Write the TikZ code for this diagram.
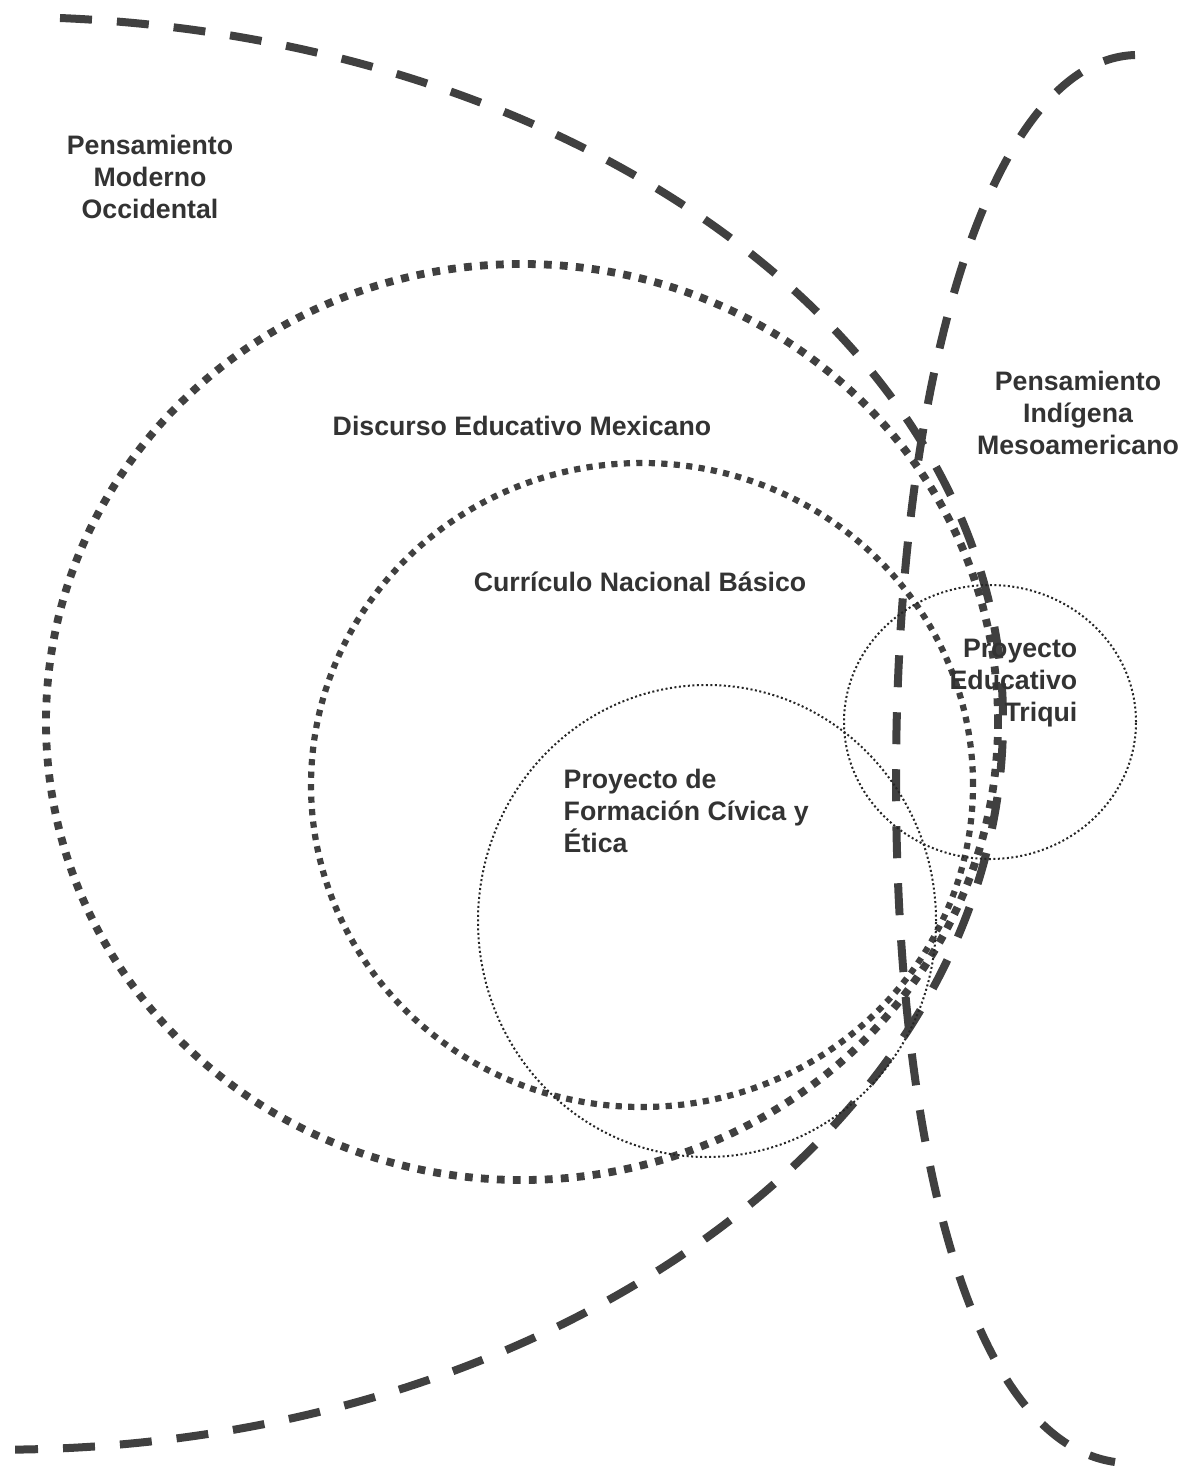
\documentclass[tikz,border=0pt]{standalone}
\usepackage{fontspec}
\setmainfont{Liberation Sans}
\begin{document}
\begin{tikzpicture}[
    linea/.style={black!75, line width=0.08cm, dash pattern=on 0.32cm off 0.25cm},
    puntos/.style={black!75, line width=0.078cm, dash pattern=on 0.078cm off 0.082cm},
    puntitos/.style={black!75, line width=0.062cm, dash pattern=on 0.062cm off 0.063cm},
    fino/.style={black!85, line width=0.02cm, dash pattern=on 0.02cm off 0.025cm},
    etiqueta/.style={text=black!80, font=\fontsize{7.6}{9}\selectfont\bfseries, inner sep=0pt}
]
    % Marco de la figura
    \useasboundingbox (0,0) rectangle (11.85,-14.69);

    % Pensamiento moderno occidental (linea discontinua izquierda)
    \draw[linea] (0.60,-0.18) arc[start angle=86.57, end angle=0, x radius=10.03cm, y radius=7.03cm]
        arc[start angle=0, end angle=-89.14, x radius=10.03cm, y radius=7.30cm];

    % Pensamiento indigena mesoamericano (linea discontinua derecha)
    \draw[linea] (11.35,-0.55) .. controls (9.90,-0.60) and (8.96,-3.80) .. (8.96,-7.80)
        .. controls (8.96,-11.30) and (9.65,-14.40) .. (11.15,-14.62);

    % Discurso educativo y curriculo
    \draw[puntos] (5.22,-7.22) ellipse [x radius=4.76cm, y radius=4.58cm];
    \draw[puntitos] (6.42,-7.85) ellipse [x radius=3.31cm, y radius=3.22cm];

    % Proyectos
    \draw[fino] (7.07,-9.21) ellipse [x radius=2.29cm, y radius=2.36cm];
    \draw[fino] (9.90,-7.22) ellipse [x radius=1.46cm, y radius=1.37cm];

    % Etiquetas
    \node[etiqueta, align=center] (moderno) at (1.50,-1.77) {Pensamiento\\Moderno\\Occidental};
    \node[etiqueta, align=center] (indigena) at (10.78,-4.13) {Pensamiento\\Indígena\\Mesoamericano};
    \node[etiqueta] (discurso) at (5.22,-4.26) {Discurso Educativo Mexicano};
    \node[etiqueta] (curriculo) at (6.40,-5.82) {Currículo Nacional Básico};
    \node[etiqueta, align=left, anchor=west] (civica) at (5.63,-8.11) {Proyecto de\\Formación Cívica y\\Ética};
    \node[etiqueta, align=right, anchor=east] (triqui) at (10.78,-6.83) {Proyecto\\Educativo\\Triqui};
\end{tikzpicture}
\end{document}
